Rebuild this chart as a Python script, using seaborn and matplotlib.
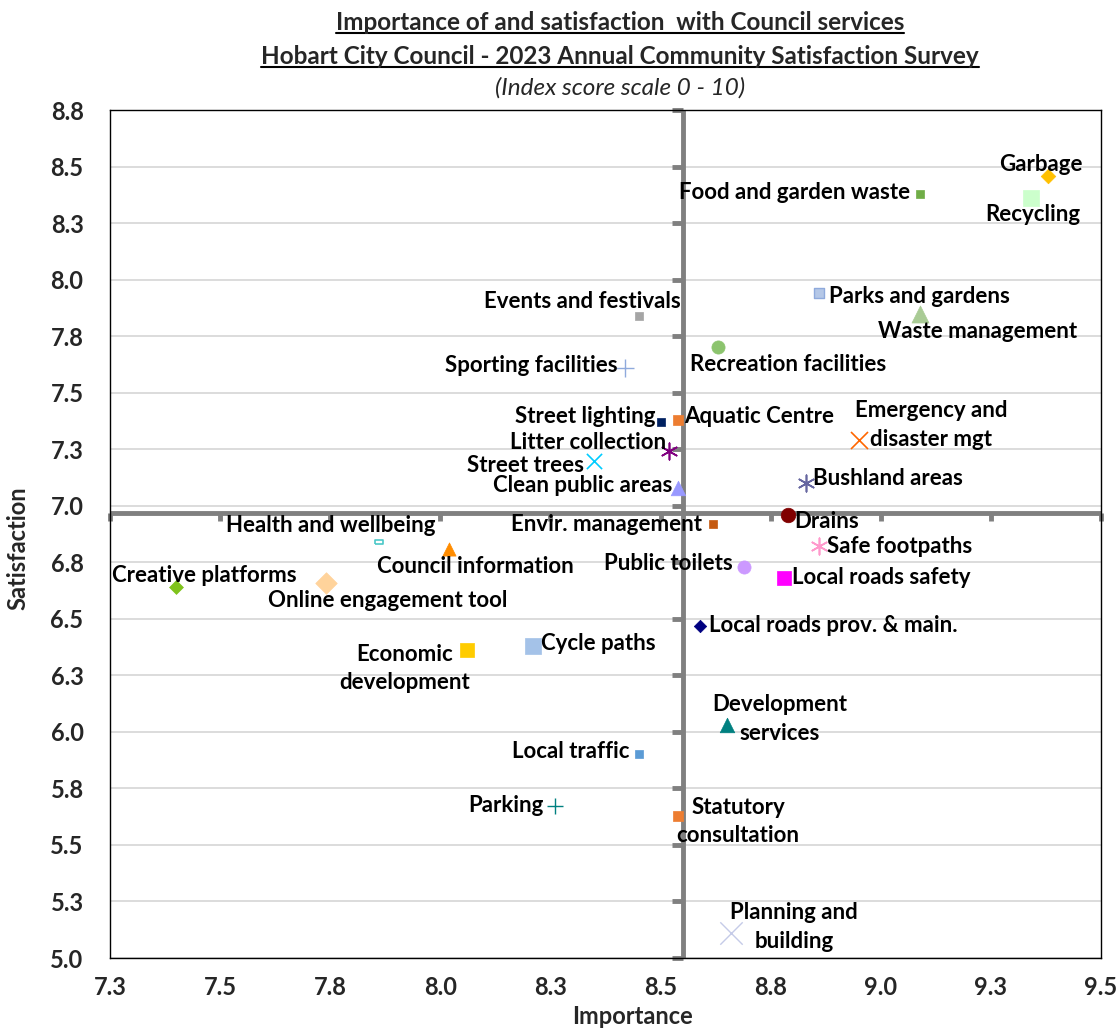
import matplotlib
matplotlib.use("Agg")
import matplotlib.pyplot as plt
import seaborn as sns
import numpy as np
from matplotlib.lines import Line2D

# ---------------- data ----------------
services = [
    "Garbage", "Recycling", "Food and garden waste", "Parks and gardens",
    "Waste management", "Events and festivals", "Recreation facilities",
    "Sporting facilities", "Street lighting", "Aquatic Centre",
    "Litter collection", "Street trees", "Clean public areas", "Bushland areas",
    "Emergency and\ndisaster mgt", "Drains", "Envir. management",
    "Safe footpaths", "Public toilets", "Local roads safety",
    "Local roads prov. & main.", "Cycle paths", "Economic\ndevelopment",
    "Development\nservices", "Local traffic", "Parking",
    "Statutory\nconsultation", "Planning and\nbuilding",
    "Health and wellbeing", "Council information", "Creative platforms",
    "Online engagement tool",
]
importance = [
    9.38, 9.34, 9.09, 8.86,
    9.09, 8.45, 8.63,
    8.42, 8.50, 8.54,
    8.52, 8.35, 8.54, 8.83,
    8.95, 8.79, 8.62,
    8.86, 8.69, 8.78,
    8.59, 8.21, 8.06,
    8.65, 8.45, 8.26,
    8.54, 8.66,
    7.86, 8.02, 7.40,
    7.74,
]
satisfaction = [
    8.46, 8.36, 8.38, 7.94,
    7.85, 7.84, 7.70,
    7.61, 7.37, 7.38,
    7.24, 7.20, 7.08, 7.10,
    7.29, 6.96, 6.92,
    6.82, 6.73, 6.68,
    6.47, 6.38, 6.36,
    6.03, 5.90, 5.67,
    5.63, 5.11,
    6.84, 6.81, 6.64,
    6.66,
]
avg_importance = 8.55
avg_satisfaction = 6.97

xticks = [7.25, 7.5, 7.75, 8.0, 8.25, 8.5, 8.75, 9.0, 9.25, 9.5]
xtick_labels = ["7.3", "7.5", "7.8", "8.0", "8.3", "8.5", "8.8", "9.0", "9.3", "9.5"]
yticks = [5.0, 5.25, 5.5, 5.75, 6.0, 6.25, 6.5, 6.75, 7.0, 7.25, 7.5, 7.75, 8.0, 8.25, 8.5, 8.75]
ytick_labels = ["5.0", "5.3", "5.5", "5.8", "6.0", "6.3", "6.5", "6.8", "7.0",
                "7.3", "7.5", "7.8", "8.0", "8.3", "8.5", "8.8"]

title_lines = ["Importance of and satisfaction  with Council services",
               "Hobart City Council - 2023 Annual Community Satisfaction Survey"]
subtitle = "(Index score scale 0 - 10)"

# ---------------- styles ----------------
ASTER = (6, 2, 0)
RECT = [(-1, -0.35), (1, -0.35), (1, 0.35), (-1, 0.35), (-1, -0.35)]
# name: (marker, size, facecolor, edgecolor, lw, dx, dy, ha)
style = {
    "Garbage": ("D", 55, "#FFC000", "#FFC000", 0.5, -7, 11, "center"),
    "Recycling": ("s", 120, "#CCFFCC", "#CCFFCC", 0.5, 2, -16, "center"),
    "Food and garden waste": ("s", 35, "#70AD47", "#70AD47", 0.5, -10, 1, "right"),
    "Parks and gardens": ("s", 45, "#B4C7E7", "#8FAADC", 1.0, 10, -3, "left"),
    "Waste management": ("^", 150, "#A9CB95", "#A9CB95", 0.5, 57, -18, "center"),
    "Events and festivals": ("s", 35, "#A5A5A5", "#A5A5A5", 0.5, 42, 14, "right"),
    "Recreation facilities": ("o", 90, "#8CC46E", "#8CC46E", 0.5, -28, -17, "left"),
    "Sporting facilities": ("+", 160, "#8FAADC", "#8FAADC", 1.0, -8, 2, "right"),
    "Street lighting": ("s", 35, "#002060", "#002060", 0.5, -5, 6, "right"),
    "Aquatic Centre": ("s", 45, "#ED7D31", "#ED7D31", 0.5, 6, 3, "left"),
    "Litter collection": (ASTER, 140, "#800080", "#800080", 1.2, -3, 9, "right"),
    "Street trees": ("x", 120, "#00CCFF", "#00CCFF", 1.2, -10, -5, "right"),
    "Clean public areas": ("^", 110, "#9999FF", "#9999FF", 0.5, -6, 2, "right"),
    "Bushland areas": (ASTER, 140, "#6666A0", "#6666A0", 1.2, 7, 5, "left"),
    "Emergency and\ndisaster mgt": ("x", 150, "#FF6600", "#FF6600", 1.2, 72, 15, "center"),
    "Drains": ("o", 110, "#800000", "#800000", 0.5, 6, -7, "left"),
    "Envir. management": ("s", 35, "#C55A11", "#C55A11", 0.5, -11, -1, "right"),
    "Safe footpaths": (ASTER, 140, "#FF99CC", "#FF99CC", 1.2, 8, 0, "left"),
    "Public toilets": ("o", 90, "#CC99FF", "#CC99FF", 0.5, -11, 3, "right"),
    "Local roads safety": ("s", 90, "#FF00FF", "#FF00FF", 0.5, 8, 1, "left"),
    "Local roads prov. & main.": ("D", 40, "#000080", "#000080", 0.5, 9, 0, "left"),
    "Cycle paths": ("s", 140, "#A4C2E8", "#A4C2E8", 0.5, 8, 2, "left"),
    "Economic\ndevelopment": ("s", 90, "#FFCC00", "#FFCC00", 0.5, -62, -18, "center"),
    "Development\nservices": ("^", 110, "#008080", "#008080", 0.5, 53, 6, "center"),
    "Local traffic": ("s", 35, "#5B9BD5", "#5B9BD5", 0.5, -9, 3, "right"),
    "Parking": ("+", 130, "#008080", "#008080", 1.0, -11, 1, "right"),
    "Statutory\nconsultation": ("s", 50, "#ED7D31", "#ED7D31", 0.5, 60, -6, "center"),
    "Planning and\nbuilding": ("x", 260, "#C5CBE8", "#C5CBE8", 1.0, 63, 6, "center"),
    "Health and wellbeing": (RECT, 40, "white", "#4BC8C8", 1.2, -48, 16, "center"),
    "Council information": ("^", 90, "#FF8C00", "#FF8C00", 0.5, 26, -18, "center"),
    "Creative platforms": ("D", 50, "#7FC31C", "#7FC31C", 0.5, 28, 12, "center"),
    "Online engagement tool": ("D", 120, "#FFD39B", "#FFD39B", 0.5, 62, -18, "center"),
}

sns.set_style("white")
plt.rcParams["font.family"] = ["Lato", "DejaVu Sans"]

W, H = 1119, 1028
fig = plt.figure(figsize=(W / 100, H / 100), dpi=100)
ax = fig.add_axes([110 / W, 1 - 958 / H, (1101 - 110) / W, (958 - 110) / H])

ax.set_xlim(7.25, 9.5)
ax.set_ylim(5.0, 8.75)
ax.set_xticks(xticks)
ax.set_xticklabels(xtick_labels, fontsize=17, fontweight="bold")
ax.set_yticks(yticks)
ax.set_yticklabels(ytick_labels, fontsize=17, fontweight="bold")
ax.tick_params(axis="x", length=0, pad=13)
ax.tick_params(axis="y", length=0, pad=19)
ax.yaxis.grid(True, color="#D9D9D9", lw=1.3, zorder=0)
ax.xaxis.grid(False)
ax.set_axisbelow(True)
for sp in ax.spines.values():
    sp.set_color("black")
    sp.set_linewidth(1.0)

# crosshair (average lines)
ax.axvline(avg_importance, color="#808080", lw=3.5, zorder=1.5)
ax.axhline(avg_satisfaction, color="#808080", lw=3.5, zorder=1.5)
ax.plot([avg_importance] * len(yticks), yticks, ls="", marker=0, markersize=8,
        mew=3.5, color="#808080", zorder=1.5, clip_on=False)
ax.plot(xticks, [avg_satisfaction] * len(xticks), ls="", marker=3, markersize=6,
        mew=3.5, color="#808080", zorder=1.5, clip_on=False)

for name, xv, yv in zip(services, importance, satisfaction):
    m, s, fc, ec, lw, dx, dy, ha = style[name]
    kw = dict(x=[xv], y=[yv], marker=m, s=s, ax=ax, zorder=3, legend=False)
    if m in ("+", "x") or m == ASTER:
        sns.scatterplot(color=ec, linewidth=lw, **kw)
    else:
        sns.scatterplot(color=fc, edgecolor=ec, linewidth=lw, **kw)
    ax.annotate(name, (xv, yv), xytext=(dx, dy), textcoords="offset pixels",
                ha=ha, va="center", fontsize=16, fontweight="bold",
                color="black", zorder=4, linespacing=1.45,
                multialignment="center")

ax.set_xlabel("")
ax.set_ylabel("")
fig.text(633 / W, 1 - 1016 / H, "Importance", ha="center", va="center",
         fontsize=17, fontweight="bold")
fig.text(18 / W, 1 - 548 / H, "Satisfaction", ha="center", va="center",
         rotation=90, fontsize=17, fontweight="bold")

# titles
t1 = fig.text(620 / W, 1 - 22 / H, title_lines[0], ha="center", va="center",
              fontsize=17.5, fontweight="bold")
t2 = fig.text(620 / W, 1 - 56 / H, title_lines[1], ha="center", va="center",
              fontsize=17.5, fontweight="bold")
fig.text(620 / W, 1 - 88 / H, subtitle, ha="center", va="center",
         fontsize=17.5, fontstyle="italic")

fig.canvas.draw()
r = fig.canvas.get_renderer()
for t in (t1, t2):
    bb = t.get_window_extent(renderer=r)
    yy = bb.y0 + 1
    fig.add_artist(Line2D([bb.x0 / W, bb.x1 / W], [yy / H, yy / H],
                          color="black", lw=1.5, transform=fig.transFigure))

fig.savefig("out.png", dpi=100)
